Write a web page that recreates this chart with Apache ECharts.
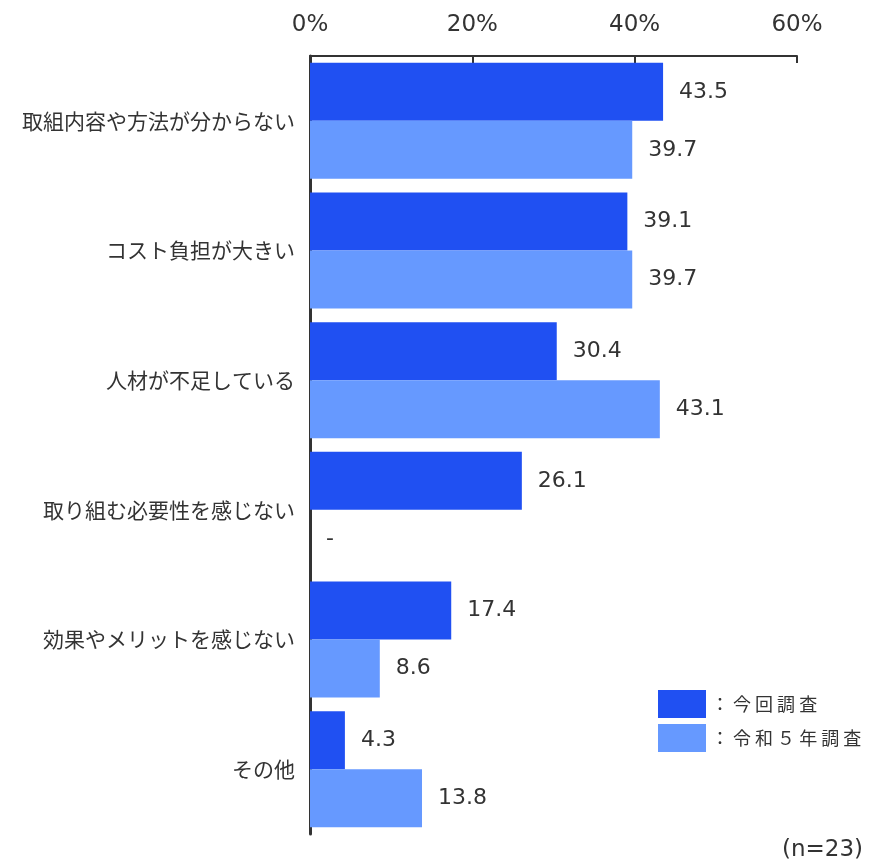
<!DOCTYPE html>
<html>
<head>
<meta charset="utf-8">
<script src="https://cdn.jsdelivr.net/npm/echarts@6/dist/echarts.min.js"></script>
<style>
  html, body { margin: 0; padding: 0; background: #fff; }
  #chart { width: 893px; height: 865px; }
</style>
</head>
<body>
<div id="chart"></div>
<script>
// Reasons for not taking action (multiple answers, %)
const categories = [
  '取組内容や方法が分からない',
  'コスト負担が大きい',
  '人材が不足している',
  '取り組む必要性を感じない',
  '効果やメリットを感じない',
  'その他'
];
const currentName = '今回調査';
const previousName = '令和５年調査';
const currentValues = [43.5, 39.1, 30.4, 26.1, 17.4, 4.3];
// null = no answer option in that survey (shown as "-")
const previousValues = [39.7, 39.7, 43.1, null, 8.6, 13.8];
const tickLabels = ['0%', '20%', '40%', '60%'];
const sampleNote = '(n=23)';

const FONT = "'DejaVu Sans', 'Noto Sans CJK JP', sans-serif";
const JP_FONT = "'Noto Sans CJK JP', sans-serif";
const TEXT = '#333333';

const chart = echarts.init(document.getElementById('chart'));

const labelStyle = {
  show: true,
  position: 'right',
  distance: 16,
  fontFamily: FONT,
  fontSize: 22,
  color: TEXT,
  formatter: p => (p.value == null || p.value === 0) ? '-' : p.value.toFixed(1)
};

chart.setOption({
  animation: false,
  textStyle: { fontFamily: FONT },
  grid: { left: 310, right: 96, top: 56, bottom: 31 },
  xAxis: {
    type: 'value',
    position: 'top',
    min: 0,
    max: 60,
    interval: 20,
    axisLine: { show: true, lineStyle: { color: '#333', width: 2 } },
    axisTick: { show: true, inside: true, length: 7, lineStyle: { color: '#333', width: 2 } },
    splitLine: { show: false },
    axisLabel: {
      margin: 19,
      fontFamily: FONT,
      fontSize: 23,
      color: TEXT,
      formatter: v => tickLabels[v / 20]
    }
  },
  yAxis: {
    type: 'category',
    data: categories,
    inverse: true,
    axisLine: { show: true, lineStyle: { color: '#333', width: 3 } },
    axisTick: { show: false },
    axisLabel: {
      margin: 15,
      fontFamily: JP_FONT,
      fontSize: 21,
      color: TEXT
    }
  },
  legend: {
    orient: 'vertical',
    left: 653,
    top: 685,
    itemWidth: 48,
    itemHeight: 28,
    itemGap: 6,
    icon: 'rect',
    textStyle: {
      fontFamily: JP_FONT,
      fontSize: 18,
      color: TEXT
    },
    formatter: name => '： ' + name.split('').join(' '),
    data: [currentName, previousName]
  },
  series: [
    {
      name: currentName,
      type: 'bar',
      data: currentValues,
      barWidth: 58,
      barGap: '0%',
      itemStyle: { color: '#2050F2' },
      label: labelStyle
    },
    {
      name: previousName,
      type: 'bar',
      data: previousValues.map(v => v == null ? 0 : v),
      barWidth: 58,
      barGap: '0%',
      itemStyle: { color: '#6699FF' },
      label: labelStyle
    }
  ],
  graphic: [{
    type: 'text',
    right: 30,
    top: 839,
    style: { text: sampleNote, fontFamily: FONT, fontSize: 23, fill: TEXT }
  }]
});
</script>
</body>
</html>
